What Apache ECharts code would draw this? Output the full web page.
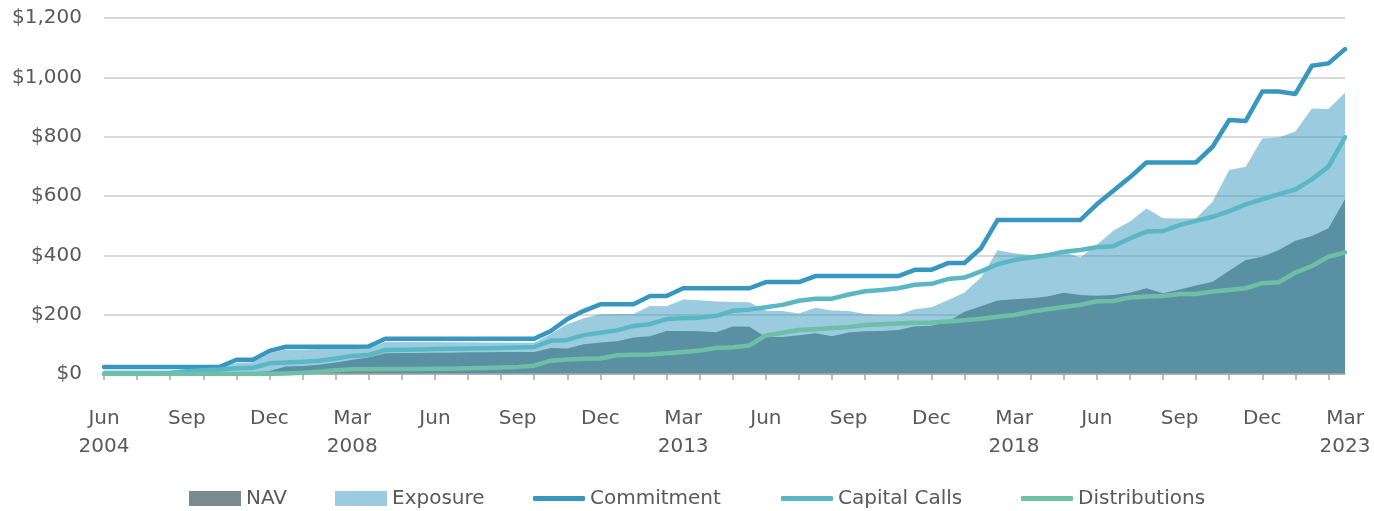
<!DOCTYPE html>
<html>
<head>
<meta charset="utf-8">
<title>Commitment, Exposure and NAV</title>
<script src="https://cdn.jsdelivr.net/npm/echarts@6/dist/echarts.min.js"></script>
<style>
  html, body { margin: 0; padding: 0; background: #ffffff; }
  #chart { width: 1374px; height: 511px; }
</style>
</head>
<body>
<div id="chart"></div>
<script>
// Quarter-end dates, Jun 2004 through Mar 2023
const quarters = [
  'Jun 2004', 'Sep 2004', 'Dec 2004',
  'Mar 2005', 'Jun 2005', 'Sep 2005', 'Dec 2005',
  'Mar 2006', 'Jun 2006', 'Sep 2006', 'Dec 2006',
  'Mar 2007', 'Jun 2007', 'Sep 2007', 'Dec 2007',
  'Mar 2008', 'Jun 2008', 'Sep 2008', 'Dec 2008',
  'Mar 2009', 'Jun 2009', 'Sep 2009', 'Dec 2009',
  'Mar 2010', 'Jun 2010', 'Sep 2010', 'Dec 2010',
  'Mar 2011', 'Jun 2011', 'Sep 2011', 'Dec 2011',
  'Mar 2012', 'Jun 2012', 'Sep 2012', 'Dec 2012',
  'Mar 2013', 'Jun 2013', 'Sep 2013', 'Dec 2013',
  'Mar 2014', 'Jun 2014', 'Sep 2014', 'Dec 2014',
  'Mar 2015', 'Jun 2015', 'Sep 2015', 'Dec 2015',
  'Mar 2016', 'Jun 2016', 'Sep 2016', 'Dec 2016',
  'Mar 2017', 'Jun 2017', 'Sep 2017', 'Dec 2017',
  'Mar 2018', 'Jun 2018', 'Sep 2018', 'Dec 2018',
  'Mar 2019', 'Jun 2019', 'Sep 2019', 'Dec 2019',
  'Mar 2020', 'Jun 2020', 'Sep 2020', 'Dec 2020',
  'Mar 2021', 'Jun 2021', 'Sep 2021', 'Dec 2021',
  'Mar 2022', 'Jun 2022', 'Sep 2022', 'Dec 2022',
  'Mar 2023'
];

// Values in $ millions, one per quarter
const nav = [
  0, 0, 0, 0, 0, 1, 2, 3, 4, 5,
  10, 25, 27, 31, 39, 48, 56, 70, 71, 71,
  72, 72, 73, 73, 74, 74, 74, 88, 86, 100,
  106, 110, 123, 127, 145, 145, 144, 141, 160, 159,
  125, 125, 131, 137, 127, 140, 144, 145, 148, 161,
  163, 176, 210, 228, 248, 252, 255, 261, 274, 266,
  264, 266, 274, 289, 272, 285, 298, 311, 348, 384,
  395, 418, 449, 465, 491, 589
];
const exposure = [
  12, 12, 12, 12, 12, 13, 16, 20, 38, 40,
  70, 83, 83, 84, 84, 85, 86, 108, 108, 108,
  108, 107, 107, 106, 106, 105, 105, 135, 168, 188,
  201, 202, 202, 229, 228, 251, 249, 244, 243, 242,
  213, 212, 204, 223, 214, 212, 202, 200, 200, 218,
  225, 249, 275, 325, 417, 407, 401, 404, 412, 393,
  436, 483, 514, 558, 525, 524, 525, 581, 688, 699,
  794, 797, 817, 895, 893, 948
];
const commitment = [
  24, 24, 24, 24, 24, 24, 24, 24, 48, 48,
  78, 92, 92, 92, 92, 92, 93, 119, 119, 119,
  119, 119, 119, 119, 119, 119, 119, 145, 185, 213,
  235, 235, 235, 263, 263, 289, 289, 289, 289, 289,
  310, 310, 310, 330, 330, 330, 330, 330, 330, 351,
  351, 374, 374, 424, 519, 519, 519, 519, 519, 519,
  572, 618, 663, 713, 713, 713, 713, 766, 856, 853,
  952, 952, 944, 1039, 1047, 1095
];
const capitalCalls = [
  2, 2, 2, 2, 3, 9, 13, 15, 19, 21,
  36, 39, 41, 45, 52, 61, 64, 81, 82, 83,
  84, 85, 86, 87, 88, 89, 91, 112, 115, 131,
  139, 147, 162, 168, 185, 188, 190, 196, 213, 217,
  225, 233, 247, 254, 254, 268, 279, 283, 289, 301,
  304, 320, 325, 346, 370, 384, 393, 400, 412, 418,
  427, 431, 457, 480, 482, 502, 516, 530, 549, 572,
  589, 606, 622, 656, 699, 798
];
const distributions = [
  0, 0, 0, 0, 0, 0, 0, 0, 0, 0,
  1, 2, 4, 8, 13, 16, 16, 17, 17, 17,
  18, 18, 19, 20, 22, 24, 28, 45, 49, 51,
  52, 63, 65, 66, 70, 74, 79, 88, 90, 96,
  130, 139, 148, 151, 155, 158, 165, 168, 170, 173,
  174, 177, 181, 186, 193, 199, 210, 218, 226, 233,
  245, 246, 258, 261, 263, 270, 270, 278, 283, 289,
  306, 309, 342, 364, 395, 410
];

const colors = {
  nav: '#5a90a3',
  navKey: '#7a8b8f',
  exposure: 'rgba(55,151,191,0.5)',   // translucent, so gridlines show through
  commitment: '#3797bf',
  capitalCalls: '#59b8c3',
  distributions: '#6fbea6'
};

const FONT = 'DejaVu Sans';
const TEXT = '#595959';

function areaSeries(name, data, color) {
  return {
    name: name, type: 'line', data: data,
    symbol: 'none', showSymbol: false,
    lineStyle: { width: 0, opacity: 0 },
    itemStyle: { color: color },
    areaStyle: { color: color, opacity: 1 },
    emphasis: { disabled: true }
  };
}
function lineSeries(name, data, color) {
  return {
    name: name, type: 'line', data: data, z: 4,
    symbol: 'none', showSymbol: false,
    itemStyle: { color: color },
    lineStyle: { color: color, width: 4.5, cap: 'round', join: 'round' },
    emphasis: { disabled: true }
  };
}
function legendItem(name, left, isArea, keyColor) {
  const item = { name: name, icon: isArea ? 'rect' : 'roundRect' };
  if (keyColor) item.itemStyle = { color: keyColor };
  return {
    data: [item], left: left, top: 488.5, padding: 0,
    itemWidth: 52, itemHeight: isArea ? 15 : 5,
    selectedMode: false,
    textStyle: { fontFamily: FONT, fontSize: 20, color: TEXT }
  };
}

const chart = echarts.init(document.getElementById('chart'), null, { renderer: 'canvas' });
chart.setOption({
  animation: false,
  backgroundColor: '#ffffff',
  grid: { left: 104, right: 29, top: 18, bottom: 137, containLabel: false },
  legend: [
    legendItem('NAV', 189, true, colors.navKey),
    legendItem('Exposure', 335, true),
    legendItem('Commitment', 533, false),
    legendItem('Capital Calls', 781, false),
    legendItem('Distributions', 1021, false)
  ],
  xAxis: {
    type: 'category', data: quarters, boundaryGap: false, z: 3,
    axisLine: { show: true, lineStyle: { color: '#a6a6a6', width: 1.5 } },
    axisTick: { show: true, interval: 1, length: 6, lineStyle: { color: '#a6a6a6', width: 1.5 } },
    axisLabel: {
      interval: 4, margin: 31, color: TEXT, fontFamily: FONT, fontSize: 20, lineHeight: 28,
      formatter: function (value, index) {
        const parts = value.split(' ');
        return (index === 0 || parts[0] === 'Mar') ? parts[0] + '\n' + parts[1] : parts[0];
      }
    },
    splitLine: { show: false }
  },
  yAxis: {
    type: 'value', min: 0, max: 1200, interval: 200,
    axisLine: { show: false }, axisTick: { show: false },
    axisLabel: {
      margin: 22, color: TEXT, fontFamily: FONT, fontSize: 20,
      formatter: function (v) { return '$' + v.toLocaleString('en-US'); }
    },
    splitLine: { show: true, lineStyle: { color: '#d9d9d9', width: 2 } }
  },
  series: [
    areaSeries('Exposure', exposure, colors.exposure),
    areaSeries('NAV', nav, colors.nav),
    lineSeries('Commitment', commitment, colors.commitment),
    lineSeries('Capital Calls', capitalCalls, colors.capitalCalls),
    lineSeries('Distributions', distributions, colors.distributions)
  ]
});
</script>
</body>
</html>
